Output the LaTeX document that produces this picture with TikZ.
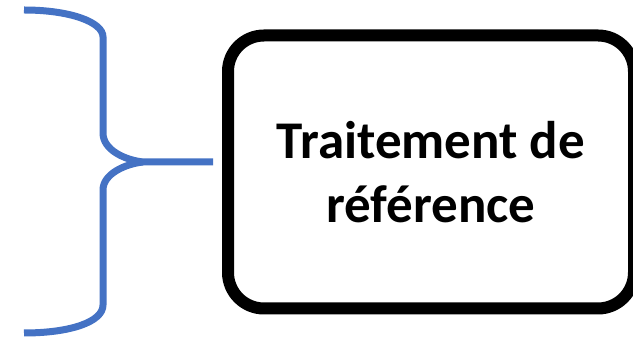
\documentclass[tikz,border=0pt]{standalone}
\usepackage{fontspec}
\setmainfont{Carlito}
\definecolor{braceblue}{HTML}{4472C4}
\begin{document}
\begin{tikzpicture}[x=1pt,y=1pt,
  boxstyle/.style={draw=black,line width=12pt,rounded corners=36pt,fill=white,
    minimum width=406pt,minimum height=273pt,align=center,
    font=\fontsize{53}{64}\selectfont\bfseries,inner sep=0pt},
  bracestyle/.style={draw=braceblue,line width=7pt}]
\useasboundingbox (0,0) rectangle (633,339);
\node[boxstyle] (box) at (431,167) {Traitement de\\référence};
\coordinate (tip) at ([xshift=-9pt]box.west |- 0,177);
\draw[bracestyle] (24,329) .. controls (70,329) and (103,317) .. (103,302)
  -- (103,206) .. controls (103,189) and (125,179) .. (143,177)
  -- (tip);
\draw[bracestyle] (143,177) .. controls (125,175) and (103,165) .. (103,149)
  -- (103,34) .. controls (103,17) and (70,6) .. (24,6);
\end{tikzpicture}
\end{document}
